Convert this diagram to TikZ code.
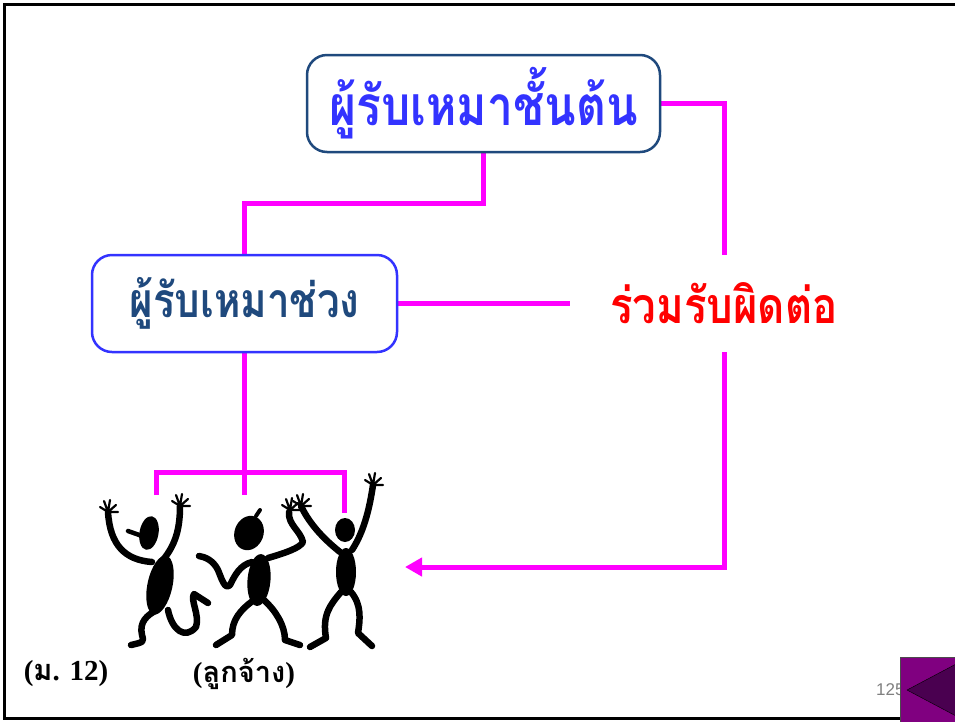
\documentclass[tikz,border=0pt]{standalone}
\usepackage{fontspec}
\setmainfont{Liberation Serif}
\setsansfont{Liberation Sans}
\newfontfamily\thaifont[Script=Thai]{Loma}
\usetikzlibrary{arrows.meta,backgrounds}

\definecolor{linkpink}{HTML}{FF00FF}
\definecolor{navy}{HTML}{1F497D}
\definecolor{brightblue}{HTML}{3333FF}
\definecolor{slidepurple}{HTML}{800080}
\definecolor{darkpurple}{HTML}{4A0050}

\tikzset{
  box/.style={draw, line width=2.5pt, rounded corners=20pt, fill=white, inner sep=0pt},
  bigthai/.style={font=\thaifont\bfseries\fontsize{#1}{#1}\selectfont},
  connector/.style={draw=linkpink, line width=5pt},
  limb/.style={line width=6.5pt, line cap=round, line join=round},
  finger/.style={line width=2.2pt, line cap=round},
}

% narrow, tall Thai lettering
\newcommand{\narrow}[1]{\scalebox{0.84}[1]{#1}}
\newcommand{\hand}[1]{%
  \draw[finger] #1 -- ++(-8,-5) #1 -- ++(-4,-11) #1 -- ++(2,-12) #1 -- ++(8,-7) #1 -- ++(10,0);}

\begin{document}
\begin{tikzpicture}[x=1pt,y=-1pt]
\useasboundingbox (0,0) rectangle (955,721);

% contractors and the joint-liability label
\node[box, draw=navy, text=brightblue, bigthai=55,
      minimum width=353pt, minimum height=97pt] (prime) at (483.5,103.5) {\narrow{ผู้รับเหมาชั้นต้น}};
\node[box, draw=brightblue, text=navy, bigthai=48,
      minimum width=305pt, minimum height=97pt] (sub) at (244.5,303.5) {\narrow{ผู้รับเหมาช่วง}};
\node[text=red, bigthai=50, inner sep=0pt,
      minimum width=308pt, minimum height=97pt] (liab) at (724,303.5) {\narrow{ร่วมรับผิดต่อ}};

% free ends of the connectors at the workers
\coordinate (crew) at (405,567);
\coordinate (hub) at (244.5,472);
\coordinate (w1) at (156,495);
\coordinate (w2) at (244.5,495);
\coordinate (w3) at (344,513);

\begin{scope}[on background layer]
  \fill[white] (0,0) rectangle (955,721);
  \draw[connector] (prime.south) -- ++(0,50) -| (sub.north);
  \draw[connector] (prime.east) -| (liab.north);
  \draw[connector] (sub.east) -- (liab.west);
  \draw[connector, -{Triangle[length=17pt,width=18pt]}] (liab.south) |- (crew);
  \draw[connector] (sub.south) -- (w2);
  \draw[connector] (w1) |- (w3 |- hub) -- (w3);
\end{scope}

% slide frame
\draw[line width=3pt] (960,4) -- (4.5,4) -- (4.5,718.5) -- (960,718.5);

% worker 1
\fill[rotate around={-10:(149,533)}] (149,533) ellipse [x radius=9.5, y radius=17];
\draw[limb, line width=4.5pt] (128,531) -- (145,537);
\fill[rotate around={-12:(160,585)}] (160,585) ellipse [x radius=12.5, y radius=30];
\draw[limb] (152,562) .. controls (125,560) and (110,545) .. (108,512);
\hand{(108,512)}
\draw[limb] (163,560) .. controls (175,545) and (180,530) .. (180,506);
\hand{(180,506)}
\draw[limb] (157,610) .. controls (147,615) and (139,622) .. (142,635) .. controls (144,642) .. (131,645);
\draw[limb] (168,610) .. controls (172,630) and (185,640) .. (196,627) .. controls (200,615) and (190,600) .. (194,594) -- (208,603);

% worker 2
\fill[rotate around={-20:(249,533)}] (249,533) ellipse [x radius=14.5, y radius=17.5];
\draw[limb, line width=4pt] (256,516) -- (260,510);
\fill[rotate around={-5:(259,580)}] (259,580) ellipse [x radius=11.5, y radius=26];
\draw[limb] (252,562) .. controls (240,565) and (235,575) .. (230,585) .. controls (225,590) and (222,580) .. (218,570) .. controls (213,560) and (205,557) .. (199,556);
\draw[limb] (268,558) .. controls (285,553) and (300,548) .. (303,542) .. controls (300,530) and (288,525) .. (289,512);
\hand{(290,510)}
\draw[limb] (254,600) .. controls (240,610) and (232,620) .. (232,635) -- (216,645);
\draw[limb] (264,600) .. controls (275,610) and (285,625) .. (285,640) -- (300,645);

% worker 3
\fill (345,530) ellipse [x radius=10, y radius=12];
\fill (346,572) ellipse [x radius=10, y radius=24];
\draw[limb] (340,552) .. controls (325,540) and (310,525) .. (301,506);
\hand{(301,506)}
\draw[limb] (352,550) .. controls (365,530) and (370,505) .. (373,485);
\hand{(373,485)}
\draw[limb] (341,592) .. controls (330,605) and (322,615) .. (326,638) -- (310,647);
\draw[limb] (351,592) .. controls (362,605) and (360,620) .. (358,633) -- (372,646);

% captions
\node[font=\bfseries\fontsize{29}{29}\selectfont] (sect) at (66,674)
  {(\thaifont ม\rmfamily. 12)};
\node[font=\bfseries\fontsize{29}{29}\selectfont] (empl) at (244,674)
  {(\thaifont ลูกจ้าง\rmfamily)};

% page number and back button
\node[anchor=west, text=gray, font=\sffamily\fontsize{17}{17}\selectfont, inner sep=0pt] (pageno) at (876,690) {125};
\draw[fill=slidepurple, draw=black!70] (900,657) rectangle (962,725);
\draw[fill=darkpurple, draw=black] (907,690) -- (958,663) -- (958,717) -- cycle;
\end{tikzpicture}
\end{document}
